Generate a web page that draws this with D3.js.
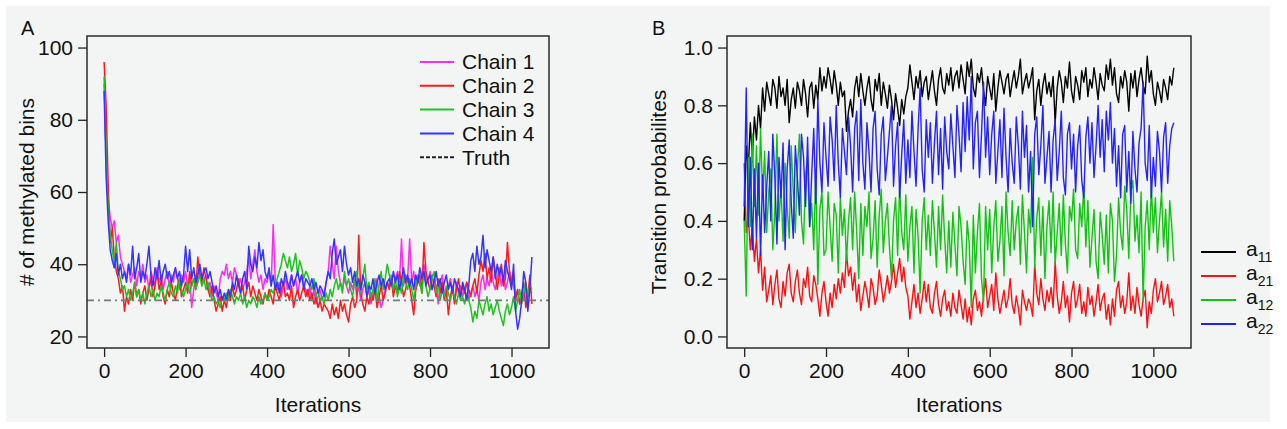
<!DOCTYPE html>
<html>
<head>
<meta charset="utf-8">
<script src="https://cdn.jsdelivr.net/npm/d3@7"></script>
<style>
  body { margin: 0; background: #fff; }
  text { font-family: "Liberation Sans", Arial, sans-serif; fill: #111; }
</style>
</head>
<body>
<div id="chart"></div>
<script>
// trace values, one value every 5 iterations (0..1050)
var iterStep = 5;

var chain1 = [
  90, 70, 58, 53, 50, 52, 46, 48, 42, 40,
  38, 36, 40, 35, 37, 39, 34, 38, 36, 40,
  35, 37, 33, 38, 36, 34, 39, 35, 37, 33,
  36, 38, 34, 37, 35, 39, 36, 33, 37, 35,
  38, 34, 36, 28, 33, 37, 35, 38, 34, 36,
  37, 33, 35, 31, 34, 32, 30, 36, 38, 37,
  40, 36, 38, 35, 39, 37, 34, 36, 33, 35,
  38, 42, 36, 40, 44, 38, 35, 37, 33, 36,
  35, 38, 34, 51, 36, 33, 35, 31, 34, 36,
  33, 35, 37, 34, 36, 32, 35, 37, 34, 33,
  31, 34, 30, 33, 29, 31, 33, 30, 32, 35,
  38, 45, 40, 36, 45, 38, 35, 33, 36, 34,
  32, 35, 33, 36, 31, 34, 30, 33, 35, 31,
  33, 29, 32, 34, 36, 31, 28, 30, 33, 35,
  34, 37, 33, 36, 38, 35, 47, 34, 37, 36,
  47, 35, 38, 33, 36, 34, 37, 40, 36, 35,
  38, 33, 36, 34, 29, 35, 37, 32, 31, 34,
  36, 33, 30, 35, 32, 34, 31, 33, 35, 30,
  32, 34, 31, 33, 30, 35, 37, 33, 36, 34,
  38, 35, 33, 36, 39, 34, 37, 33, 35, 38,
  36, 34, 31, 33, 29, 32, 30, 34, 31, 33,
  32
];
var chain2 = [
  96, 84, 62, 46, 50, 42, 38, 36, 32, 34,
  27, 31, 29, 33, 30, 35, 31, 33, 29, 32,
  34, 30, 33, 36, 31, 34, 38, 33, 35, 31,
  29, 33, 31, 35, 32, 30, 34, 36, 31, 33,
  35, 32, 38, 34, 36, 33, 42, 37, 35, 39,
  36, 33, 31, 34, 30, 27, 29, 31, 27, 30,
  28, 32, 30, 34, 31, 33, 36, 32, 34, 30,
  33, 35, 31, 34, 32, 30, 33, 31, 29, 32,
  30, 33, 31, 29, 34, 32, 30, 33, 35, 31,
  32, 30, 34, 28, 31, 33, 30, 32, 34, 31,
  33, 30, 32, 29, 31, 28, 30, 27, 29, 28,
  27, 25, 29, 26, 28, 25, 30, 27, 29, 26,
  24, 29, 31, 28, 30, 48, 32, 29, 27, 31,
  29, 32, 30, 33, 28, 31, 34, 30, 32, 35,
  33, 36, 31, 34, 32, 38, 35, 31, 33, 36,
  34, 30, 26, 33, 35, 37, 32, 46, 38, 35,
  33, 37, 34, 31, 36, 32, 35, 30, 33, 26,
  31, 34, 29, 33, 36, 31, 34, 32, 35, 33,
  31, 34, 36, 32, 37, 41, 38, 43, 36, 39,
  35, 42, 38, 33, 37, 40, 34, 36, 46, 38,
  34, 37, 30, 33, 29, 32, 35, 28, 31, 37,
  29
];
var chain3 = [
  92, 70, 55, 48, 44, 40, 46, 38, 36, 33,
  34, 31, 33, 30, 32, 35, 31, 33, 30, 32,
  29, 32, 34, 31, 33, 30, 32, 31, 34, 32,
  30, 33, 35, 32, 31, 34, 32, 36, 33, 31,
  33, 35, 32, 34, 36, 33, 35, 37, 34, 36,
  33, 35, 32, 30, 31, 29, 30, 28, 31, 30,
  32, 30, 33, 31, 29, 31, 30, 32, 29, 31,
  28, 30, 29, 31, 30, 28, 31, 29, 30, 32,
  30, 31, 33, 32, 34, 36, 38, 40, 43, 41,
  39, 42, 38, 40, 43, 37, 41, 39, 36, 38,
  37, 35, 33, 36, 31, 33, 30, 31, 29, 32,
  30, 33, 31, 34, 36, 33, 35, 32, 38, 34,
  36, 33, 31, 35, 38, 34, 32, 36, 40, 33,
  35, 31, 33, 36, 30, 34, 38, 33, 36, 40,
  37, 35, 33, 36, 31, 34, 32, 37, 35, 33,
  36, 33, 30, 34, 37, 35, 32, 38, 34, 31,
  33, 36, 38, 32, 35, 30, 33, 31, 34, 32,
  30, 33, 31, 29, 32, 30, 31, 29, 32, 30,
  28, 24, 27, 25, 30, 28, 26, 29, 31, 27,
  29, 26, 28, 30, 27, 25, 23, 27, 29, 26,
  28, 31, 27, 30, 33, 29, 32, 35, 31, 34,
  33
];
var chain4 = [
  88, 64, 52, 44, 41, 39, 43, 37, 40, 36,
  38, 35, 40, 37, 45, 36, 39, 43, 35, 38,
  36, 40, 45, 37, 34, 39, 36, 41, 35, 38,
  40, 36, 38, 35, 37, 39, 36, 38, 34, 37,
  45, 38, 44, 36, 39, 35, 37, 40, 36, 38,
  39, 36, 38, 35, 32, 34, 31, 33, 30, 32,
  30, 33, 31, 35, 33, 37, 34, 32, 36, 38,
  33, 45, 40, 38, 42, 39, 46, 41, 44, 38,
  36, 39, 34, 37, 33, 35, 32, 36, 34, 38,
  35, 33, 37, 34, 36, 38, 35, 37, 33, 36,
  35, 34, 36, 33, 35, 32, 34, 33, 31, 35,
  38, 36, 43, 47, 40, 42, 44, 38, 45, 40,
  37, 39, 35, 38, 34, 36, 33, 37, 35, 31,
  34, 33, 36, 32, 35, 37, 34, 36, 33, 35,
  36, 34, 38, 35, 37, 33, 36, 39, 35, 37,
  34, 36, 33, 37, 35, 39, 36, 38, 34, 36,
  37, 33, 35, 38, 34, 36, 32, 35, 37, 33,
  35, 32, 36, 34, 33, 31, 35, 33, 30, 34,
  41, 43, 38, 45, 40, 42, 48, 39, 44, 41,
  38, 42, 36, 40, 37, 39, 35, 41, 38, 36,
  33, 40, 27, 22, 25, 30, 38, 35, 27, 33,
  42
];
var truthValue = 30;

var a11 = [
  0.40, 0.66, 0.58, 0.74, 0.62, 0.76, 0.68, 0.80, 0.72, 0.86,
  0.78, 0.88, 0.84, 0.80, 0.89, 0.86, 0.79, 0.90, 0.83, 0.86,
  0.80, 0.89, 0.74, 0.82, 0.86, 0.79, 0.88, 0.85, 0.80, 0.89,
  0.84, 0.76, 0.86, 0.88, 0.79, 0.87, 0.82, 0.93, 0.85, 0.90,
  0.86, 0.93, 0.89, 0.84, 0.92, 0.87, 0.80, 0.88, 0.83, 0.85,
  0.71, 0.78, 0.82, 0.76, 0.86, 0.90, 0.83, 0.91, 0.85, 0.80,
  0.86, 0.90, 0.82, 0.78, 0.89, 0.85, 0.91, 0.80, 0.88, 0.84,
  0.79, 0.87, 0.82, 0.75, 0.84, 0.79, 0.73, 0.82, 0.77, 0.83,
  0.86, 0.94, 0.88, 0.82, 0.90, 0.86, 0.92, 0.83, 0.88, 0.90,
  0.82, 0.87, 0.92, 0.85, 0.80, 0.89, 0.93, 0.86, 0.84, 0.91,
  0.87, 0.93, 0.85, 0.90, 0.92, 0.86, 0.94, 0.89, 0.84, 0.95,
  0.90, 0.96, 0.86, 0.83, 0.91, 0.88, 0.93, 0.85, 0.80, 0.90,
  0.86, 0.82, 0.91, 0.78, 0.86, 0.92, 0.88, 0.84, 0.89, 0.91,
  0.83, 0.88, 0.92, 0.86, 0.90, 0.96, 0.84, 0.88, 0.91, 0.86,
  0.89, 0.93, 0.75, 0.85, 0.89, 0.80, 0.87, 0.91, 0.84, 0.88,
  0.83, 0.90, 0.74, 0.86, 0.92, 0.88, 0.81, 0.90, 0.86, 0.95,
  0.85, 0.81, 0.90, 0.87, 0.82, 0.92, 0.88, 0.93, 0.83, 0.89,
  0.86, 0.93, 0.88, 0.82, 0.91, 0.87, 0.85, 0.94, 0.89, 0.96,
  0.87, 0.93, 0.84, 0.81, 0.90, 0.86, 0.92, 0.88, 0.78, 0.91,
  0.86, 0.92, 0.83, 0.89, 0.93, 0.87, 0.84, 0.97, 0.88, 0.92,
  0.84, 0.80, 0.88, 0.85, 0.81, 0.89, 0.86, 0.82, 0.90, 0.87,
  0.93
];
var a21 = [
  0.60, 0.36, 0.42, 0.30, 0.38, 0.26, 0.34, 0.22, 0.30, 0.16,
  0.24, 0.12, 0.16, 0.21, 0.11, 0.18, 0.23, 0.13, 0.10, 0.19,
  0.14, 0.22, 0.25, 0.15, 0.12, 0.19, 0.23, 0.15, 0.11, 0.20,
  0.17, 0.24, 0.14, 0.12, 0.21, 0.18, 0.13, 0.07, 0.15, 0.19,
  0.12, 0.07, 0.15, 0.10, 0.18, 0.13, 0.20, 0.15, 0.22, 0.17,
  0.29, 0.21, 0.24, 0.16, 0.22, 0.12, 0.18, 0.09, 0.14, 0.19,
  0.15, 0.10, 0.20, 0.17, 0.11, 0.14, 0.23, 0.18, 0.12, 0.16,
  0.21, 0.15, 0.19, 0.25, 0.17, 0.22, 0.27, 0.19, 0.24, 0.17,
  0.14, 0.06, 0.12, 0.18, 0.10, 0.15, 0.08, 0.13, 0.19, 0.12,
  0.18, 0.10, 0.08, 0.15, 0.19, 0.11, 0.07, 0.13, 0.16, 0.09,
  0.12, 0.07, 0.15, 0.10, 0.08, 0.16, 0.11, 0.06, 0.13, 0.05,
  0.10, 0.04, 0.13, 0.16, 0.09, 0.12, 0.07, 0.14, 0.20, 0.10,
  0.14, 0.18, 0.09, 0.22, 0.13, 0.08, 0.12, 0.16, 0.10, 0.13,
  0.20, 0.11, 0.08, 0.14, 0.10, 0.04, 0.16, 0.12, 0.09, 0.13,
  0.11, 0.07, 0.25, 0.15, 0.11, 0.20, 0.13, 0.09, 0.16, 0.12,
  0.17, 0.10, 0.26, 0.14, 0.08, 0.12, 0.19, 0.10, 0.14, 0.05,
  0.15, 0.19, 0.10, 0.13, 0.18, 0.08, 0.12, 0.07, 0.17, 0.11,
  0.14, 0.07, 0.12, 0.18, 0.09, 0.13, 0.15, 0.06, 0.11, 0.04,
  0.13, 0.07, 0.16, 0.19, 0.10, 0.14, 0.08, 0.12, 0.22, 0.09,
  0.14, 0.08, 0.17, 0.11, 0.07, 0.13, 0.16, 0.03, 0.12, 0.08,
  0.16, 0.20, 0.12, 0.15, 0.19, 0.11, 0.14, 0.18, 0.10, 0.13,
  0.07
];
var a12 = [
  0.40, 0.14, 0.62, 0.38, 0.70, 0.45, 0.66, 0.42, 0.72, 0.48,
  0.64, 0.36, 0.50, 0.58, 0.30, 0.44, 0.70, 0.40, 0.52, 0.33,
  0.60, 0.45, 0.34, 0.66, 0.50, 0.36, 0.58, 0.70, 0.40, 0.32,
  0.56, 0.62, 0.38, 0.46, 0.30, 0.58, 0.18, 0.44, 0.50, 0.28,
  0.30, 0.50, 0.38, 0.26, 0.46, 0.42, 0.22, 0.48, 0.35, 0.44,
  0.26, 0.40, 0.48, 0.30, 0.50, 0.36, 0.20, 0.46, 0.28, 0.45,
  0.38, 0.50, 0.27, 0.34, 0.47, 0.24, 0.42, 0.51, 0.29, 0.40,
  0.46, 0.31, 0.20, 0.40, 0.48, 0.28, 0.52, 0.36, 0.30, 0.49,
  0.26, 0.38, 0.45, 0.22, 0.44, 0.35, 0.15, 0.40, 0.48, 0.30,
  0.42, 0.28, 0.47, 0.36, 0.24, 0.45, 0.30, 0.49, 0.34, 0.22,
  0.40, 0.24, 0.43, 0.32, 0.21, 0.45, 0.38, 0.26, 0.18, 0.40,
  0.32, 0.10, 0.42, 0.22, 0.36, 0.46, 0.20, 0.12, 0.45, 0.30,
  0.44, 0.22, 0.38, 0.47, 0.26, 0.33, 0.45, 0.21, 0.50, 0.36,
  0.28, 0.47, 0.30, 0.40, 0.45, 0.25, 0.49, 0.36, 0.22, 0.44,
  0.36, 0.62, 0.24, 0.41, 0.48, 0.28, 0.45, 0.20, 0.38, 0.47,
  0.29, 0.50, 0.25, 0.36, 0.46, 0.28, 0.49, 0.32, 0.22, 0.45,
  0.40, 0.51, 0.30, 0.27, 0.46, 0.38, 0.52, 0.31, 0.47, 0.24,
  0.34, 0.44, 0.26, 0.20, 0.43, 0.35, 0.25, 0.42, 0.22, 0.46,
  0.40, 0.19, 0.28, 0.48, 0.36, 0.30, 0.52, 0.44, 0.27, 0.50,
  0.54, 0.33, 0.42, 0.29, 0.50, 0.12, 0.38, 0.47, 0.30, 0.52,
  0.36, 0.48, 0.29, 0.40, 0.50, 0.31, 0.44, 0.26, 0.47, 0.38,
  0.26
];
var a22 = [
  0.45, 0.86, 0.38, 0.62, 0.30, 0.58, 0.34, 0.60, 0.28, 0.56,
  0.36, 0.52, 0.64, 0.40, 0.70, 0.55, 0.32, 0.62, 0.48, 0.67,
  0.30, 0.58, 0.68, 0.46, 0.34, 0.66, 0.55, 0.42, 0.70, 0.62,
  0.45, 0.69, 0.38, 0.56, 0.72, 0.46, 0.82, 0.60, 0.50, 0.74,
  0.62, 0.52, 0.76, 0.68, 0.54, 0.80, 0.60, 0.48, 0.72, 0.64,
  0.56, 0.76, 0.66, 0.50, 0.72, 0.78, 0.54, 0.82, 0.60, 0.51,
  0.74, 0.64, 0.50, 0.72, 0.78, 0.58, 0.49, 0.70, 0.76, 0.54,
  0.62, 0.71, 0.80, 0.52, 0.66, 0.74, 0.48, 0.63, 0.75, 0.53,
  0.68, 0.55, 0.78, 0.64, 0.52, 0.72, 0.86, 0.58, 0.50, 0.75,
  0.62, 0.74, 0.53, 0.67, 0.78, 0.56, 0.72, 0.51, 0.76, 0.64,
  0.58, 0.77, 0.66, 0.55, 0.80, 0.70, 0.57, 0.81, 0.64, 0.83,
  0.68, 0.90, 0.58, 0.74, 0.78, 0.55, 0.70, 0.88, 0.62, 0.76,
  0.56, 0.70, 0.78, 0.53, 0.64, 0.75, 0.55, 0.79, 0.62, 0.50,
  0.72, 0.60, 0.53, 0.76, 0.66, 0.51, 0.78, 0.62, 0.73, 0.50,
  0.64, 0.38, 0.70, 0.76, 0.56, 0.66, 0.80, 0.53, 0.62, 0.71,
  0.50, 0.68, 0.75, 0.54, 0.64, 0.78, 0.55, 0.49, 0.70, 0.74,
  0.58, 0.70, 0.50, 0.66, 0.73, 0.54, 0.48, 0.69, 0.76, 0.60,
  0.74, 0.55, 0.66, 0.80, 0.62, 0.75, 0.57, 0.78, 0.68, 0.81,
  0.60, 0.72, 0.52, 0.66, 0.48, 0.70, 0.73, 0.50, 0.64, 0.46,
  0.71, 0.58, 0.50, 0.67, 0.72, 0.88, 0.60, 0.54, 0.73, 0.48,
  0.62, 0.52, 0.71, 0.64, 0.50, 0.69, 0.74, 0.53, 0.66, 0.72,
  0.74
];

var xTicks = [0, 200, 400, 600, 800, 1000];
var yTicksA = [20, 40, 60, 80, 100];
var yTicksB = [0, 0.2, 0.4, 0.6, 0.8, 1.0];

var seriesA = [
  { name: "Chain 1", values: chain1, color: "#ff2bf0" },
  { name: "Chain 2", values: chain2, color: "#ff1a1a" },
  { name: "Chain 3", values: chain3, color: "#22c122" },
  { name: "Chain 4", values: chain4, color: "#3434ff" }
];
var seriesB = [
  { sub: "11", values: a11, color: "#000000" },
  { sub: "21", values: a21, color: "#ff1010" },
  { sub: "12", values: a12, color: "#12c412" },
  { sub: "22", values: a22, color: "#2222ff" }
];

var svgWidth = 1287, svgHeight = 429;
var svg = d3.select("#chart").append("svg")
  .attr("width", svgWidth)
  .attr("height", svgHeight);

svg.append("rect").attr("width", svgWidth).attr("height", svgHeight).attr("fill", "#fff");
svg.append("rect")
  .attr("x", 6).attr("y", 6)
  .attr("width", 1264).attr("height", 416)
  .attr("fill", "#f3f5f4");

var fontSize = 21;

// one panel: axes, labels; returns scales
function panel(box, yDomain, yTicks, yFormat, yTitle, letter) {
  var x = d3.scaleLinear().domain([-42, 1092]).range([box.x0, box.x1]);
  var y = d3.scaleLinear().domain(yDomain).range([box.y1, box.y0]);

  var g = svg.append("g");

  var xAxis = g.append("g")
    .attr("transform", `translate(0, ${box.y1})`)
    .call(d3.axisBottom(x).tickValues(xTicks).tickFormat(d3.format("d")).tickSize(9).tickPadding(6));
  var yAxis = g.append("g")
    .attr("transform", `translate(${box.x0}, 0)`)
    .call(d3.axisLeft(y).tickValues(yTicks).tickFormat(yFormat).tickSize(9).tickPadding(5));
  [xAxis, yAxis].forEach(function(a) {
    a.select(".domain").remove();
    a.selectAll("line").attr("stroke", "#222").attr("stroke-width", 1.3);
    a.selectAll("text").attr("font-size", fontSize).attr("fill", "#111")
      .style("font-family", '"Liberation Sans", Arial, sans-serif');
  });

  g.append("text")
    .attr("x", (box.x0 + box.x1) / 2)
    .attr("y", 412)
    .attr("text-anchor", "middle")
    .attr("font-size", fontSize)
    .text("Iterations");

  g.append("text")
    .attr("transform", `translate(${box.titleX}, ${(box.y0 + box.y1) / 2}) rotate(-90)`)
    .attr("text-anchor", "middle")
    .attr("dy", "0.35em")
    .attr("font-size", fontSize)
    .text(yTitle);

  g.append("text")
    .attr("x", box.letterX)
    .attr("y", 35)
    .attr("font-size", 20)
    .text(letter);

  var clipId = "clip" + letter;
  svg.append("clipPath").attr("id", clipId)
    .append("rect")
    .attr("x", box.x0).attr("y", box.y0)
    .attr("width", box.x1 - box.x0).attr("height", box.y1 - box.y0);

  return { x: x, y: y, g: g, clip: clipId, box: box };
}

function drawBox(p) {
  p.g.append("rect")
    .attr("x", p.box.x0).attr("y", p.box.y0)
    .attr("width", p.box.x1 - p.box.x0).attr("height", p.box.y1 - p.box.y0)
    .attr("fill", "none")
    .attr("stroke", "#2a2a2a")
    .attr("stroke-width", 1.5);
}

function drawTraces(p, series, width) {
  var line = d3.line()
    .x(function(d, i) { return p.x(i * iterStep); })
    .y(function(d) { return p.y(d); });
  var lines = p.g.append("g").attr("clip-path", `url(#${p.clip})`);
  series.forEach(function(s) {
    lines.append("path")
      .datum(s.values)
      .attr("d", line)
      .attr("fill", "none")
      .attr("stroke", s.color)
      .attr("stroke-width", width)
      .attr("stroke-linejoin", "round");
  });
  return lines;
}

// Panel A
var pA = panel({ x0: 87, x1: 549, y0: 36, y1: 348, titleX: 27, letterX: 21 },
  [16.8, 103.2], yTicksA, d3.format("d"), "# of methylated bins", "A");
var linesA = drawTraces(pA, seriesA, 1.5);
linesA.append("line")
  .attr("x1", pA.box.x0).attr("x2", pA.box.x1)
  .attr("y1", pA.y(truthValue)).attr("y2", pA.y(truthValue))
  .attr("stroke", "#777")
  .attr("stroke-width", 1.6)
  .attr("stroke-dasharray", "7,4,2,4");
drawBox(pA);

var legA = pA.g.append("g");
seriesA.concat([{ name: "Truth", color: "#222", dash: "4,2" }]).forEach(function(s, i) {
  var yy = 62 + i * 23.8;
  legA.append("line")
    .attr("x1", 420).attr("x2", 454)
    .attr("y1", yy).attr("y2", yy)
    .attr("stroke", s.color)
    .attr("stroke-width", 2)
    .attr("stroke-dasharray", s.dash || null);
  legA.append("text")
    .attr("x", 462).attr("y", yy)
    .attr("dy", "0.35em")
    .attr("font-size", fontSize)
    .text(s.name);
});

// Panel B
var pB = panel({ x0: 727, x1: 1191, y0: 36, y1: 348, titleX: 659, letterX: 652 },
  [-0.04, 1.04], yTicksB, d3.format(".1f"), "Transition probabilites", "B");
drawTraces(pB, seriesB, 1.4);
drawBox(pB);

var legB = pB.g.append("g");
seriesB.forEach(function(s, i) {
  var yy = 252 + i * 24;
  legB.append("line")
    .attr("x1", 1201).attr("x2", 1236)
    .attr("y1", yy).attr("y2", yy)
    .attr("stroke", s.color)
    .attr("stroke-width", 2);
  var t = legB.append("text")
    .attr("x", 1246).attr("y", yy + 4)
    .attr("font-size", fontSize);
  t.append("tspan").text("a");
  t.append("tspan").attr("font-size", 14).attr("dy", 6).text(s.sub);
});
</script>
</body>
</html>
